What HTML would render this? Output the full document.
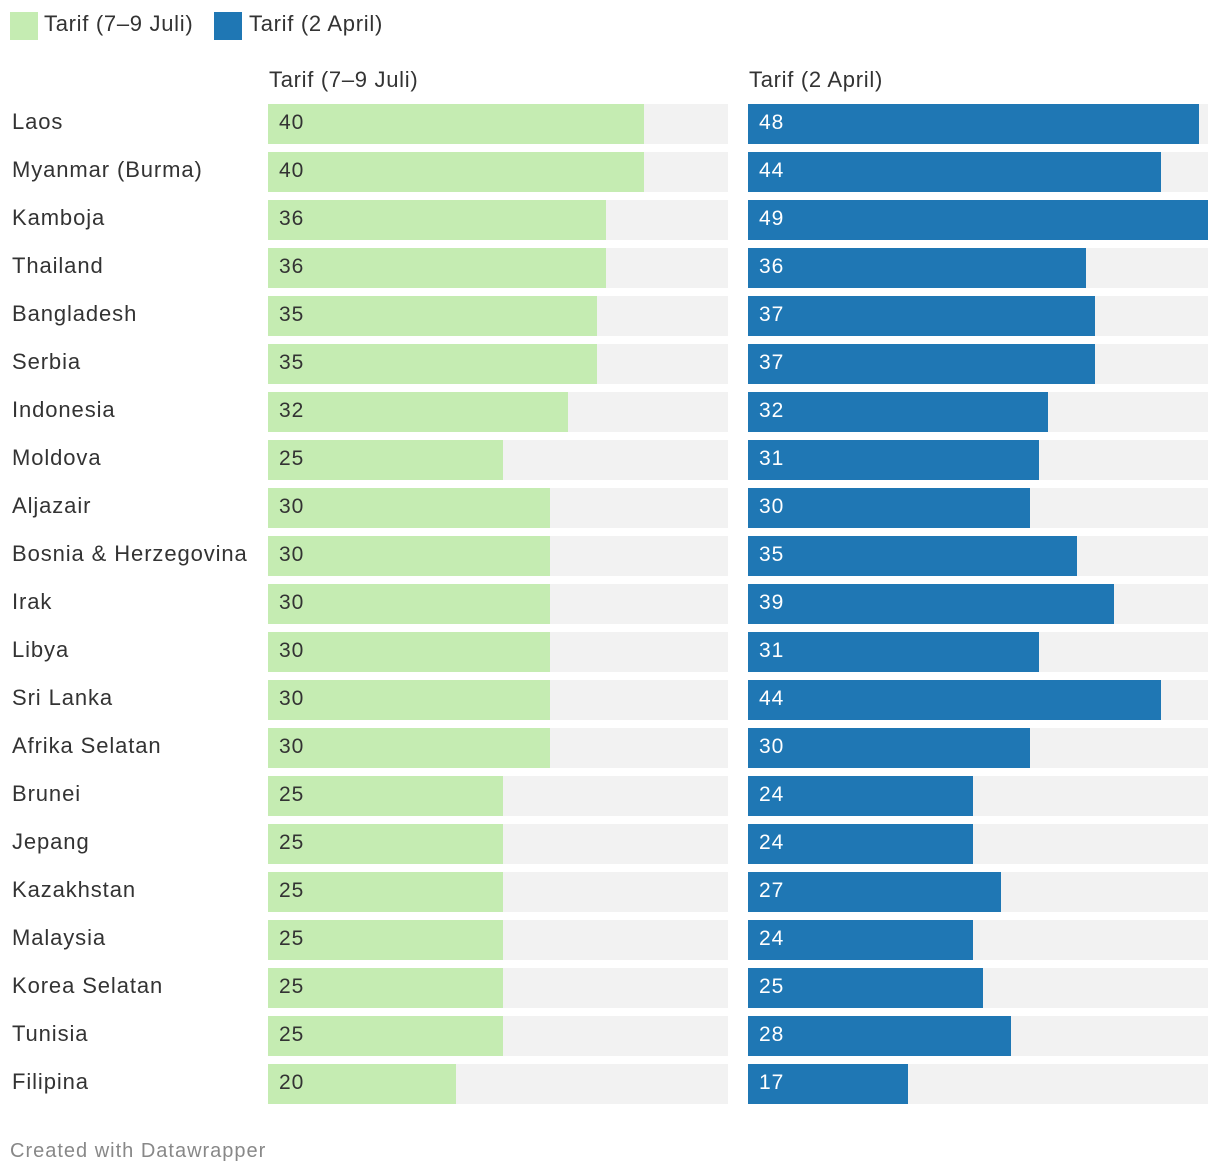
<!DOCTYPE html>
<html><head><meta charset="utf-8">
<style>
body{margin:0;width:1220px;height:1176px;background:#fff;font-family:"Liberation Sans",Arial,sans-serif;color:#333;position:relative;overflow:hidden}
.a{position:absolute}
.lbl{font-size:22px;line-height:40px;letter-spacing:0.9px}
.val{font-size:21px;line-height:40px;letter-spacing:1px}
</style></head><body>
<div class="a" style="left:10px;top:12px;width:28px;height:28px;background:#c5ecb2"></div>
<div class="a lbl" style="left:44px;top:4px;letter-spacing:0.7px">Tarif (7–9 Juli)</div>
<div class="a" style="left:214px;top:12px;width:28px;height:28px;background:#1f77b4"></div>
<div class="a lbl" style="left:249px;top:4px;letter-spacing:0.7px">Tarif (2 April)</div>
<div class="a lbl" style="left:269px;top:60px;letter-spacing:0.7px">Tarif (7–9 Juli)</div>
<div class="a lbl" style="left:749px;top:60px;letter-spacing:0.7px">Tarif (2 April)</div>
<div id="chart"></div>
<div class="a" style="left:10px;top:1140px;font-size:20px;color:#888;letter-spacing:1px">Created with Datawrapper</div>
<script>
const countries=["Laos","Myanmar (Burma)","Kamboja","Thailand","Bangladesh","Serbia","Indonesia","Moldova","Aljazair","Bosnia & Herzegovina","Irak","Libya","Sri Lanka","Afrika Selatan","Brunei","Jepang","Kazakhstan","Malaysia","Korea Selatan","Tunisia","Filipina"];
const julyValues=[40,40,36,36,35,35,32,25,30,30,30,30,30,30,25,25,25,25,25,25,20];
const aprilValues=[48,44,49,36,37,37,32,31,30,35,39,31,44,30,24,24,27,24,25,28,17];
const maxVal=49;
const W=460, top0=104, pitch=48, bh=40;
const x=v=>v/maxVal*W;
const c=document.getElementById('chart');
function mk(style,name,txt,cls){
  const d=document.createElement('div');
  d.className='a '+(cls||'');
  d.style.cssText=style;
  
  
  if(txt!=null)d.textContent=txt;
  c.appendChild(d);
}
countries.forEach((n,i)=>{
  const y=top0+i*pitch;
  mk(`left:12px;top:${y-2}px`,'country-label',n,'lbl');
  [[268,julyValues[i],'#c5ecb2','#333','bar-july'],[748,aprilValues[i],'#1f77b4','#fff','bar-april']].forEach(([x0,v,col,tc,nm])=>{
    mk(`left:${x0}px;top:${y}px;width:${W}px;height:${bh}px;background:#f2f2f2`,'bar-background',null);
    mk(`left:${x0}px;top:${y}px;width:${x(v)}px;height:${bh}px;background:${col}`,nm,null);
    mk(`left:${x0+11}px;top:${y-1}px;color:${tc}`,'value-label',String(v),'val');
  });
});
</script>
</body></html>
